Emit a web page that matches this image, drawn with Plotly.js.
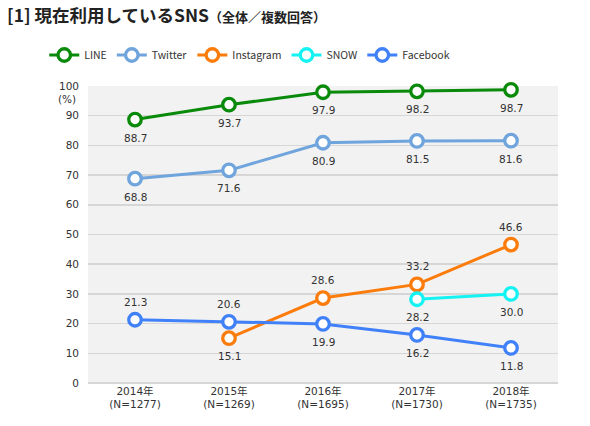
<!DOCTYPE html>
<html><head><meta charset="utf-8">
<script src="https://cdn.plot.ly/plotly-3.0.1.min.js"></script>
<style>html,body{margin:0;padding:0;background:#fff}#c{width:590px;height:426px}</style>
</head><body><div id="c"></div>
<script>
const years = ["2014年","2015年","2016年","2017年","2018年"];
const sampleN = ["(N=1277)","(N=1269)","(N=1695)","(N=1730)","(N=1735)"];
const lineVals = [88.7, 93.7, 97.9, 98.2, 98.7];
const twitterVals = [68.8, 71.6, 80.9, 81.5, 81.6];
const instagramVals = [null, 15.1, 28.6, 33.2, 46.6];
const snowVals = [null, null, null, 28.2, 30.0];
const facebookVals = [21.3, 20.6, 19.9, 16.2, 11.8];

// +1 = label above point, -1 = label below
const lineLabelSide = [-1,-1,-1,-1,-1];
const twitterLabelSide = [-1,-1,-1,-1,-1];
const instagramLabelSide = [1,-1,1,1,1];
const snowLabelSide = [-1,-1,-1,-1,-1];
const facebookLabelSide = [1,1,-1,-1,-1];

const cats = years.map((y,i)=>y+"<br>"+sampleN[i]);
const fam = "DejaVu Sans, Noto Sans CJK JP, sans-serif";

function mk(name, vals, color){
  return {
    type:'scatter', mode:'lines+markers', name:name,
    x:cats, y:vals,
    line:{color:color, width:3},
    marker:{symbol:'circle', size:12.5, color:'#fff', line:{color:color, width:3.3}},
    connectgaps:false, cliponaxis:false, hoverinfo:'none'
  };
}
const data = [
  mk('LINE', lineVals, '#0a8a0a'),
  mk('Twitter', twitterVals, '#6fa4dc'),
  mk('Instagram', instagramVals, '#fb7b0b'),
  mk('SNOW', snowVals, '#14f2f2'),
  mk('Facebook', facebookVals, '#4080f8')
];
const annots = [];
[[lineVals,lineLabelSide],[twitterVals,twitterLabelSide],[instagramVals,instagramLabelSide],[snowVals,snowLabelSide],[facebookVals,facebookLabelSide]].forEach(([vals,side])=>{
  vals.forEach((v,i)=>{
    if(v==null) return;
    annots.push({text:v.toFixed(1), x:cats[i], y:v, xref:'x', yref:'y', showarrow:false,
      xanchor:'center', yanchor:'middle', yshift: side[i]*18,
      font:{family:fam, size:10.5, color:'#333'}});
  });
});
annots.push({text:'(%)', xref:'paper', yref:'y', x:0, y:95.5, xanchor:'right', yanchor:'middle', xshift:-10, showarrow:false,
    font:{family:fam, size:10.5, color:'#333'}});

const layout = {
  width:590, height:426,
  margin:{l:88, r:32, t:86, b:43},
  paper_bgcolor:'#fff', plot_bgcolor:'#f2f2f2',
  font:{family:fam, color:'#333', size:11},
  title:{
    text:"<b>[1] 現在利用しているSNS</b><b><span style='font-size:13px'>（全体／複数回答）</span></b>",
    font:{family:"Noto Sans CJK JP, sans-serif", size:17.5, color:'#222'},
    xref:'container', yref:'container', x:0.012, xanchor:'left', y:0.962, yanchor:'middle'
  },
  showlegend:true,
  legend:{orientation:'h', xref:'container', yref:'container', x:0.075, xanchor:'left', y:1-55/426, yanchor:'middle',
    font:{family:"Noto Sans CJK JP, DejaVu Sans, sans-serif", size:10.5, color:'#333'}, itemwidth:30, traceorder:'normal', bgcolor:'rgba(0,0,0,0)'},
  xaxis:{type:'category', showgrid:false, zeroline:false, showline:false, ticks:'',
    tickfont:{family:fam, size:10.5, color:'#333'}, range:[-0.5,4.5], fixedrange:true},
  yaxis:{range:[0,100], tickvals:[0,10,20,30,40,50,60,70,80,90,100], showgrid:true, gridcolor:'#d6d6d6', gridwidth:1.5,
    zeroline:true, zerolinecolor:'#d6d6d6', zerolinewidth:1.5, showline:false, ticks:'', ticklabelstandoff:8,
    tickfont:{family:fam, size:10.5, color:'#333'}, fixedrange:true},
  annotations:annots
};
Plotly.newPlot('c', data, layout, {displayModeBar:false, staticPlot:true});
</script></body></html>
